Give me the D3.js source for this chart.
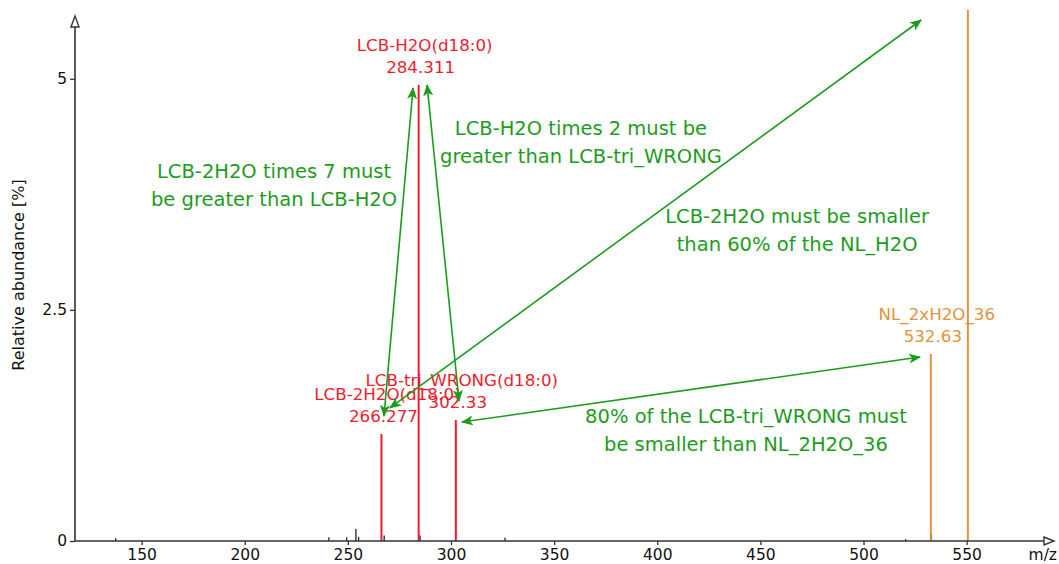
<!DOCTYPE html>
<html>
<head>
<meta charset="utf-8">
<script src="https://cdn.jsdelivr.net/npm/d3@7"></script>
<style>
  html, body { margin: 0; padding: 0; background: #fff; }
  svg { display: block; font-family: "DejaVu Sans", Verdana, sans-serif; }
</style>
</head>
<body>
<svg id="chart" width="1059" height="564"></svg>
<script>
// Annotated peaks (m/z, relative abundance %)
const annotatedMz    = [266.277, 284.311, 302.33, 532.63, 550.6];
const annotatedAbund = [1.157, 4.933, 1.309, 2.023, 5.744];
const annotatedName  = ["LCB-2H2O(d18:0)", "LCB-H2O(d18:0)", "LCB-tri_WRONG(d18:0)", "NL_2xH2O_36", ""];
const annotatedValue = ["266.277", "284.311", "302.33", "532.63", ""];
const annotatedKind  = ["lcb", "lcb", "lcb", "nl", "nl"];

// Unannotated background peaks
const noiseMz    = [137.4, 240.8, 249.4, 253.9, 255.2, 267.6, 285.0, 326.2, 520.4, 532.9];
const noiseAbund = [0.03, 0.04, 0.04, 0.13, 0.045, 0.06, 0.06, 0.035, 0.02, 0.075];

// Axis ticks
const xTicks = [150, 200, 250, 300, 350, 400, 450, 500, 550];
const yTicks = [0, 2.5, 5];

// Rule arrows: [from m/z, from %, to m/z, to %]
const ruleArrows = [
  [267.5, 1.352, 281.6, 4.900],
  [288.4, 4.933, 303.9, 1.514],
  [270.4, 1.439, 527.9, 5.636],
  [305.3, 1.287, 527.4, 1.990]
];
// Rule texts: anchor m/z, anchor %, lines
const ruleTextMz    = [214.2, 363.0, 467.8, 443.0];
const ruleTextAbund = [3.927, 4.392, 3.44, 1.276];
const ruleTextLines = [
  ["LCB-2H2O times 7 must", "be greater than LCB-H2O"],
  ["LCB-H2O times 2 must be", "greater than LCB-tri_WRONG"],
  ["LCB-2H2O must be smaller", "than 60% of the NL_H2O"],
  ["80% of the LCB-tri_WRONG must", "be smaller than NL_2H2O_36"]
];

const colors = { lcb: "#ee1c2b", nl: "#e3923c", rule: "#1c9c1c", axis: "#333333", noise: "#222222" };

const svg = d3.select("#chart");
const x = d3.scaleLinear().domain([117.7, 593.8]).range([75, 1057]);
const y = d3.scaleLinear().domain([0, 5.69]).range([541, 15]);

// arrow markers
const defs = svg.append("defs");
function marker(id, orient) {
  defs.append("marker")
    .attr("id", id).attr("viewBox", "0 0 12 10")
    .attr("refX", 11).attr("refY", 5)
    .attr("markerWidth", 12).attr("markerHeight", 10)
    .attr("markerUnits", "userSpaceOnUse")
    .attr("orient", orient)
    .append("path").attr("d", "M0,0 L12,5 L0,10 L3,5 Z")
    .attr("fill", colors.rule);
}
marker("arrowEnd", "auto");
marker("arrowStart", "auto-start-reverse");

// background peaks
svg.append("g").selectAll("line").data(noiseMz).join("line")
  .attr("x1", d => x(d)).attr("x2", d => x(d))
  .attr("y1", y(0)).attr("y2", (d, i) => y(noiseAbund[i]))
  .attr("stroke", colors.noise).attr("stroke-width", 1.3);

// annotated peaks
svg.append("g").selectAll("line").data(annotatedMz).join("line")
  .attr("x1", d => x(d)).attr("x2", d => x(d))
  .attr("y1", y(0)).attr("y2", (d, i) => y(annotatedAbund[i]))
  .attr("stroke", (d, i) => colors[annotatedKind[i]]).attr("stroke-width", 2);

// peak labels
const labels = svg.append("g").attr("font-size", 16.7).attr("text-anchor", "middle");
annotatedMz.forEach((mz, i) => {
  if (!annotatedName[i]) return;
  const top = y(annotatedAbund[i]);
  const c = colors[annotatedKind[i]];
  labels.append("text").attr("x", x(mz) + 6).attr("y", top - 34).attr("fill", c).text(annotatedName[i]);
  labels.append("text").attr("x", x(mz) + 2).attr("y", top - 12).attr("fill", c).text(annotatedValue[i]);
});

// axes
const xAxis = svg.append("g").attr("transform", `translate(0,${y(0)})`)
  .call(d3.axisBottom(x).tickValues(xTicks).tickSize(4).tickPadding(4).tickSizeOuter(0));
xAxis.select(".domain").remove();
xAxis.selectAll("text").attr("font-size", 15.5).attr("fill", "#111").attr("font-family", "DejaVu Sans, Verdana, sans-serif");
xAxis.selectAll("line").attr("stroke", colors.axis).attr("stroke-width", 1.3);

const yAxis = svg.append("g").attr("transform", `translate(${x.range()[0]},0)`)
  .call(d3.axisLeft(y).tickValues(yTicks).tickSize(5).tickPadding(3).tickSizeOuter(0).tickFormat(d3.format("")));
yAxis.select(".domain").remove();
yAxis.selectAll("text").attr("font-size", 15.5).attr("fill", "#111").attr("font-family", "DejaVu Sans, Verdana, sans-serif");
yAxis.selectAll("line").attr("stroke", colors.axis).attr("stroke-width", 1.3);

// axis lines with open arrowheads
const x0 = x.range()[0], yb = y(0);
svg.append("line").attr("x1", x0).attr("x2", 1044).attr("y1", yb).attr("y2", yb)
  .attr("stroke", colors.axis).attr("stroke-width", 1.6);
svg.append("path").attr("d", `M1044,${yb - 4} L1054,${yb} L1044,${yb + 4} Z`)
  .attr("fill", "#fff").attr("stroke", colors.axis).attr("stroke-width", 1.4);
svg.append("line").attr("x1", x0).attr("x2", x0).attr("y1", yb).attr("y2", 27)
  .attr("stroke", colors.axis).attr("stroke-width", 1.6);
svg.append("path").attr("d", `M${x0 - 4},27 L${x0},16 L${x0 + 4},27 Z`)
  .attr("fill", "#fff").attr("stroke", colors.axis).attr("stroke-width", 1.4);

svg.append("text").attr("x", 1057).attr("y", 560).attr("text-anchor", "end")
  .attr("font-size", 15.5).attr("fill", "#111").text("m/z");
svg.append("text").attr("transform", "translate(24,275) rotate(-90)").attr("text-anchor", "middle")
  .attr("font-size", 16).attr("fill", "#111").text("Relative abundance [%]");

// rule arrows
svg.append("g").selectAll("line").data(ruleArrows).join("line")
  .attr("x1", d => x(d[0])).attr("y1", d => y(d[1]))
  .attr("x2", d => x(d[2])).attr("y2", d => y(d[3]))
  .attr("stroke", colors.rule).attr("stroke-width", 1.6)
  .attr("marker-start", "url(#arrowStart)").attr("marker-end", "url(#arrowEnd)");

// rule texts
const rules = svg.append("g").attr("font-size", 19.5).attr("fill", colors.rule).attr("text-anchor", "middle");
ruleTextLines.forEach((lines, i) => {
  lines.forEach((t, j) => {
    rules.append("text").attr("x", x(ruleTextMz[i])).attr("y", y(ruleTextAbund[i]) + j * 28).text(t);
  });
});
</script>
</body>
</html>
